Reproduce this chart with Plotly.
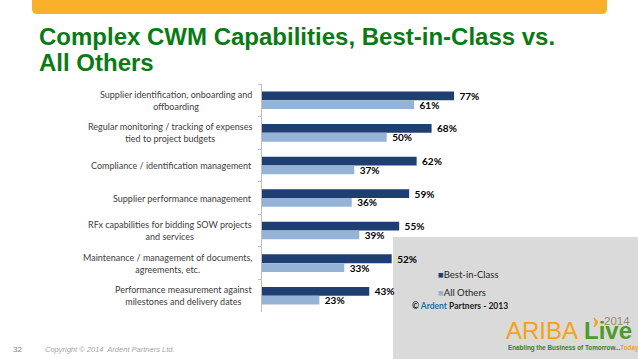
import plotly.graph_objects as go

W, H = 638, 359

categories = [
    "Supplier identification, onboarding and<br>offboarding",
    "Regular monitoring / tracking of expenses<br>tied to project budgets",
    "Compliance / identification management",
    "Supplier performance management",
    "RFx capabilities for bidding SOW projects<br>and services",
    "Maintenance / management of documents,<br>agreements, etc.",
    "Performance measurement against<br>milestones and delivery dates",
]
best_in_class = [77, 68, 62, 59, 55, 52, 43]
all_others = [61, 50, 37, 36, 39, 33, 23]
series_names = ["Best-in-Class", "All Others"]

DARK = "#1F3F73"
LIGHT = "#95B3D7"
GREEN = "#0B7A14"
LABEL_FONT = "Lato, Roboto, sans-serif"
ARIAL = "Liberation Sans, Arial"


def X(px):
    return px / W


def Y(py):
    return 1 - py / H


fig = go.Figure()
for name, vals, col in [(series_names[0], best_in_class, DARK),
                        (series_names[1], all_others, LIGHT)]:
    fig.add_trace(go.Bar(
        y=categories, x=vals, orientation="h", name=name,
        marker=dict(color=col, line=dict(width=0)),
        texttemplate="\u00a0%{x}%", textposition="outside",
        textfont=dict(family=LABEL_FONT, size=10, color="#000000", weight="bold"),
        constraintext="none", cliponaxis=False,
    ))

shapes = []
# orange header band with rounded bottom corners
x0, x1, yb, r = 32, 607, 14, 5
path = (f"M {X(x0)},{Y(-2)} L {X(x1)},{Y(-2)} L {X(x1)},{Y(yb - r)} "
        f"Q {X(x1)},{Y(yb)} {X(x1 - r)},{Y(yb)} L {X(x0 + r)},{Y(yb)} "
        f"Q {X(x0)},{Y(yb)} {X(x0)},{Y(yb - r)} Z")
shapes.append(dict(type="path", path=path, xref="paper", yref="paper",
                   fillcolor="#FBB02C", line=dict(width=0), layer="below"))
# gray panel lower right
shapes.append(dict(type="rect", xref="paper", yref="paper",
                   x0=X(393), x1=X(640), y0=Y(361), y1=Y(237),
                   fillcolor="#DADADA", line=dict(width=0), layer="below"))
# small orange swoosh of the logo
tri = (f"M {X(594)},{Y(318)} Q {X(601)},{Y(322)} {X(594)},{Y(327)} "
       f"Q {X(597)},{Y(322)} {X(594)},{Y(318)} Z")
shapes.append(dict(type="path", path=tri, xref="paper", yref="paper",
                   fillcolor="#F5A11C", line=dict(color="#F5A11C", width=1)))

ann = []
# title
ann.append(dict(text="<b>Complex CWM Capabilities, Best-in-Class vs.</b>",
                x=X(37), y=Y(36), xref="paper", yref="paper",
                xanchor="left", yanchor="middle", showarrow=False,
                font=dict(family=ARIAL, size=24, color=GREEN)))
ann.append(dict(text="<b>All Others</b>",
                x=X(37), y=Y(62), xref="paper", yref="paper",
                xanchor="left", yanchor="middle", showarrow=False,
                font=dict(family=ARIAL, size=24, color=GREEN)))
# category labels
for c in categories:
    ann.append(dict(text=c, x=X(254), y=c, xref="paper", yref="y",
                    xanchor="right", yanchor="middle", align="center",
                    showarrow=False,
                    font=dict(family=LABEL_FONT, size=9, color="#404040")))
# legend
for i, (name, col) in enumerate(zip(series_names, [DARK, LIGHT])):
    ann.append(dict(text=f'<span style="color:{col}">■</span>{name}',
                    x=X(436), y=Y(274 + 18 * i), xref="paper", yref="paper",
                    xanchor="left", yanchor="middle", showarrow=False,
                    font=dict(family=LABEL_FONT, size=9.5, color="#262626")))
ann.append(dict(text='<b>© <span style="color:#1F6E9C">Ardent</span> Partners - 2013</b>',
                x=X(410), y=Y(306), xref="paper", yref="paper",
                xanchor="left", yanchor="middle", showarrow=False,
                font=dict(family=LABEL_FONT, size=8.5, color="#1A1A1A")))
# ARIBA Live logo (text)
ann.append(dict(text="ARIBA", x=X(504), y=Y(330), xref="paper", yref="paper",
                xanchor="left", yanchor="middle", showarrow=False,
                font=dict(family=ARIAL, size=24, color="#F5A11C")))
ann.append(dict(text="<b>Live</b>", x=X(582), y=Y(330), xref="paper", yref="paper",
                xanchor="left", yanchor="middle", showarrow=False,
                font=dict(family=ARIAL, size=24, color="#4E9A2B")))
ann.append(dict(text="2014", x=X(632), y=Y(321), xref="paper", yref="paper",
                xanchor="right", yanchor="middle", showarrow=False,
                font=dict(family=ARIAL, size=11.5, color="#968A72")))
ann.append(dict(text='<b>Enabling the Business of Tomorrow...<span style="color:#F5A11C">Today</span></b>',
                x=X(506), y=Y(348), xref="paper", yref="paper",
                xanchor="left", yanchor="middle", showarrow=False,
                font=dict(family=ARIAL, size=6.3, color="#3C7D22")))
# footer
ann.append(dict(text="32", x=X(11), y=Y(349), xref="paper", yref="paper",
                xanchor="left", yanchor="middle", showarrow=False,
                font=dict(family=ARIAL, size=8, color="#7F7F7F")))
ann.append(dict(text="<i>Copyright © 2014  Ardent Partners Ltd.</i>", x=X(43), y=Y(349),
                xref="paper", yref="paper",
                xanchor="left", yanchor="middle", showarrow=False,
                font=dict(family=ARIAL, size=7.5, color="#A6A6A6")))

fig.update_layout(
    width=W, height=H, margin=dict(l=0, r=0, t=0, b=0),
    paper_bgcolor="white", plot_bgcolor="white", showlegend=False,
    barmode="group", bargap=0.46, bargroupgap=0,
    xaxis=dict(domain=[X(262), X(262 + 100 * 2.494)], range=[0, 100],
               visible=False, fixedrange=True),
    yaxis=dict(domain=[Y(312), Y(84)], type="category", autorange="reversed",
               showticklabels=False, ticks="outside", ticklen=3,
               tickcolor="#BFBFBF", tickson="boundaries", showline=True,
               linecolor="#BFBFBF", linewidth=1, showgrid=False,
               zeroline=False, fixedrange=True),
    shapes=shapes, annotations=ann,
)

fig.write_html("out.html", config={"displayModeBar": False},
               post_script="document.body.style.margin='0';document.body.style.overflow='hidden';")
